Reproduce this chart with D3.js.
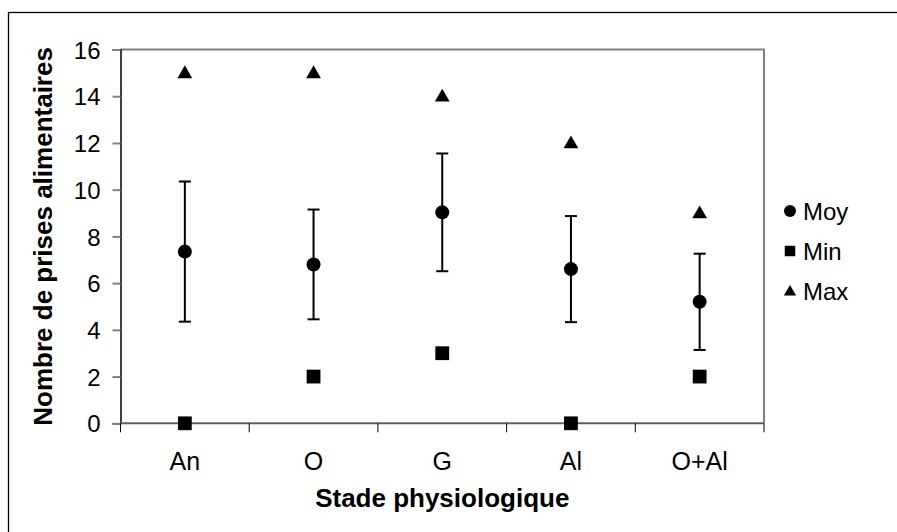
<!DOCTYPE html>
<html>
<head>
<meta charset="utf-8">
<script src="https://cdn.jsdelivr.net/npm/d3@7/dist/d3.min.js"></script>
<style>
  html, body { margin: 0; padding: 0; background: #fff; }
  svg { display: block; font-family: Arial, "Liberation Sans", sans-serif; }
</style>
</head>
<body>
<svg id="chart" width="897" height="532"></svg>
<script>
// Feeding events per physiological stage
const stages = ["An", "O", "G", "Al", "O+Al"];
const moy = [7.35, 6.8, 9.03, 6.6, 5.2];
const ecart = [3.0, 2.35, 2.52, 2.27, 2.06];
const minVals = [0, 2, 3, 0, 2];
const maxVals = [15, 15, 14, 12, 9];
const yTicks = [0, 2, 4, 6, 8, 10, 12, 14, 16];
const legendItems = ["Moy", "Min", "Max"];

const svg = d3.select("#chart");
const plotL = 120.5, plotR = 764, plotT = 49.5, plotB = 423.3;
const FONT = "Arial, 'Liberation Sans', sans-serif";

// frame around the whole figure (right and bottom edges run past the canvas)
svg.append("rect")
  .attr("x", 8.5).attr("y", 12.5)
  .attr("width", 892).attr("height", 530)
  .attr("fill", "none").attr("stroke", "#000").attr("stroke-width", 1.3);

const x = d3.scaleBand().domain(stages).range([plotL, plotR]).padding(0);
const y = d3.scaleLinear().domain([0, 16]).range([plotB, plotT]);

// plot area border (top and right)
svg.append("path")
  .attr("d", `M${plotL},${plotT}H${plotR}V${plotB}`)
  .attr("fill", "none").attr("stroke", "#808080").attr("stroke-width", 2);

// y axis
const yAxis = svg.append("g")
  .attr("transform", `translate(${plotL},0)`)
  .call(d3.axisLeft(y).tickValues(yTicks).tickSize(8).tickPadding(12).tickFormat(d3.format("d")));
yAxis.select(".domain").attr("stroke", "#000").attr("stroke-width", 1.5);
yAxis.selectAll(".tick line").attr("stroke", "#808080").attr("stroke-width", 2);
yAxis.selectAll(".tick text").attr("font-size", 24).attr("fill", "#000")
  .attr("font-family", FONT).attr("dy", "0.36em");

// x axis with ticks at category boundaries
const xg = svg.append("g").attr("transform", `translate(0,${plotB})`);
xg.append("line").attr("x1", plotL).attr("x2", plotR)
  .attr("stroke", "#606060").attr("stroke-width", 2);
const bounds = stages.map(s => x(s)).concat([x(stages[stages.length - 1]) + x.bandwidth()]);
xg.selectAll("line.tk").data(bounds).join("line").attr("class", "tk")
  .attr("x1", d => d).attr("x2", d => d).attr("y1", 0).attr("y2", 9)
  .attr("stroke", "#000").attr("stroke-width", 1);
xg.selectAll("text").data(stages).join("text")
  .attr("x", d => x(d) + x.bandwidth() / 2).attr("y", 47)
  .attr("text-anchor", "middle").attr("font-size", 25).text(d => d);

// axis titles
svg.append("text")
  .attr("x", (plotL + plotR) / 2).attr("y", 507)
  .attr("text-anchor", "middle").attr("font-size", 26).attr("font-weight", "bold")
  .text("Stade physiologique");
svg.append("text")
  .attr("transform", `translate(52,${(plotT + plotB) / 2}) rotate(-90)`)
  .attr("text-anchor", "middle").attr("font-size", 26).attr("font-weight", "bold")
  .text("Nombre de prises alimentaires");

const cx = d => x(d) + x.bandwidth() / 2;
const rows = stages.map((s, i) => ({ s, m: moy[i], e: ecart[i], lo: minVals[i], hi: maxVals[i] }));

// error bars
const eb = svg.append("g").attr("stroke", "#000").attr("stroke-width", 2);
eb.selectAll("line.v").data(rows).join("line").attr("class", "v")
  .attr("x1", d => cx(d.s)).attr("x2", d => cx(d.s))
  .attr("y1", d => y(d.m + d.e)).attr("y2", d => y(d.m - d.e));
eb.selectAll("line.t").data(rows).join("line").attr("class", "t")
  .attr("x1", d => cx(d.s) - 6).attr("x2", d => cx(d.s) + 6)
  .attr("y1", d => y(d.m + d.e)).attr("y2", d => y(d.m + d.e));
eb.selectAll("line.b").data(rows).join("line").attr("class", "b")
  .attr("x1", d => cx(d.s) - 6).attr("x2", d => cx(d.s) + 6)
  .attr("y1", d => y(d.m - d.e)).attr("y2", d => y(d.m - d.e));

// markers
const sq = d3.symbol().type(d3.symbolSquare).size(190);
const tri = d3.symbol().type(d3.symbolTriangle).size(95);
svg.append("g").selectAll("circle").data(rows).join("circle")
  .attr("cx", d => cx(d.s)).attr("cy", d => y(d.m)).attr("r", 7).attr("fill", "#000");
svg.append("g").selectAll("path").data(rows).join("path")
  .attr("transform", d => `translate(${cx(d.s)},${y(d.lo)})`).attr("d", sq).attr("fill", "#000");
svg.append("g").selectAll("path").data(rows).join("path")
  .attr("transform", d => `translate(${cx(d.s)},${y(d.hi) + 1})`).attr("d", tri).attr("fill", "#000");

// legend
const lg = svg.append("g").attr("transform", "translate(790,211)");
const shapes = [
  g => g.append("circle").attr("r", 6).attr("fill", "#000"),
  g => g.append("path").attr("d", d3.symbol().type(d3.symbolSquare).size(110)()).attr("fill", "#000"),
  g => g.append("path").attr("transform", "translate(0,1)").attr("d", d3.symbol().type(d3.symbolTriangle).size(65)()).attr("fill", "#000")
];
legendItems.forEach((name, i) => {
  const g = lg.append("g").attr("transform", `translate(0,${i * 40})`);
  shapes[i](g);
  g.append("text").attr("x", 13).attr("y", 8.5).attr("font-size", 24).text(name);
});
</script>
</body>
</html>
